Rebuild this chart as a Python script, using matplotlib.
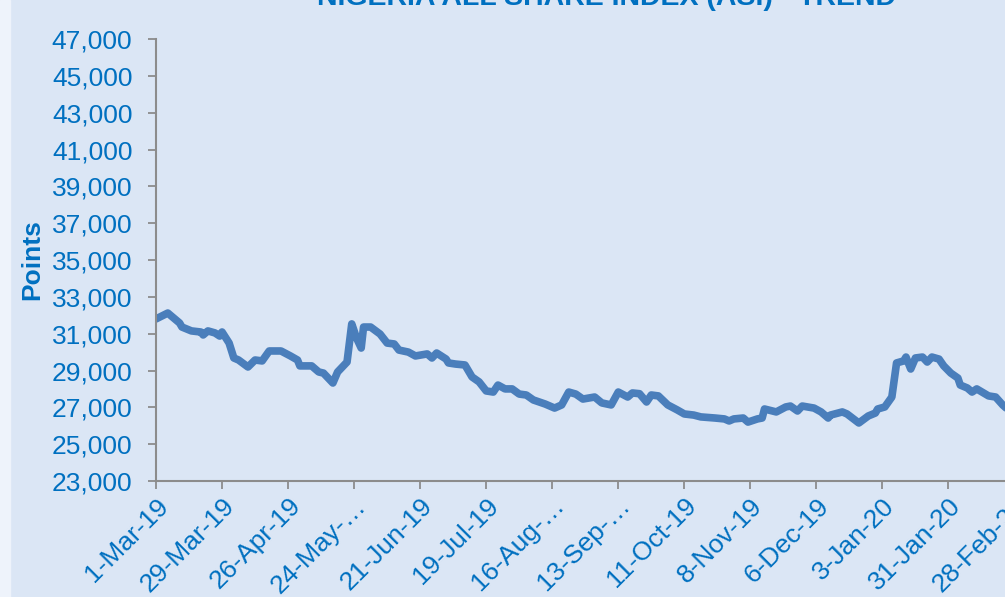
import pandas as pd
import matplotlib
matplotlib.use("Agg")
import matplotlib.pyplot as plt
from matplotlib.ticker import FuncFormatter

# ASI closing values
dates = [
    "2019-03-01", "2019-03-06", "2019-03-11", "2019-03-12", "2019-03-16", "2019-03-20",
    "2019-03-21", "2019-03-23", "2019-03-26", "2019-03-28", "2019-03-29", "2019-04-01",
    "2019-04-03", "2019-04-05", "2019-04-09", "2019-04-12", "2019-04-15", "2019-04-18",
    "2019-04-23", "2019-04-27", "2019-04-30", "2019-05-01", "2019-05-06", "2019-05-09",
    "2019-05-11", "2019-05-15", "2019-05-17", "2019-05-21", "2019-05-23", "2019-05-25",
    "2019-05-27", "2019-05-28", "2019-05-31", "2019-06-04", "2019-06-07", "2019-06-10",
    "2019-06-12", "2019-06-16", "2019-06-19", "2019-06-24", "2019-06-26", "2019-06-28",
    "2019-07-02", "2019-07-03", "2019-07-06", "2019-07-10", "2019-07-13", "2019-07-16",
    "2019-07-19", "2019-07-22", "2019-07-24", "2019-07-27", "2019-07-30", "2019-08-02",
    "2019-08-05", "2019-08-08", "2019-08-13", "2019-08-17", "2019-08-20", "2019-08-23",
    "2019-08-26", "2019-08-29", "2019-09-03", "2019-09-06", "2019-09-10", "2019-09-13",
    "2019-09-17", "2019-09-19", "2019-09-22", "2019-09-25", "2019-09-27", "2019-09-30",
    "2019-10-04", "2019-10-08", "2019-10-11", "2019-10-15", "2019-10-18", "2019-10-24",
    "2019-10-28", "2019-10-30", "2019-11-01", "2019-11-05", "2019-11-07", "2019-11-11",
    "2019-11-13", "2019-11-14", "2019-11-19", "2019-11-23", "2019-11-25", "2019-11-28",
    "2019-11-30", "2019-12-05", "2019-12-08", "2019-12-11", "2019-12-12", "2019-12-17",
    "2019-12-19", "2019-12-24", "2019-12-28", "2019-12-31", "2020-01-01", "2020-01-04",
    "2020-01-07", "2020-01-09", "2020-01-12", "2020-01-13", "2020-01-15", "2020-01-17",
    "2020-01-20", "2020-01-22", "2020-01-24", "2020-01-27", "2020-01-29", "2020-02-01",
    "2020-02-04", "2020-02-05", "2020-02-08", "2020-02-10", "2020-02-12", "2020-02-17",
    "2020-02-20", "2020-02-23", "2020-02-25",
]
asi = [
    31800, 32120, 31580, 31360, 31150, 31090,
    30930, 31150, 31040, 30870, 31090, 30490,
    29680, 29570, 29190, 29570, 29520, 30060,
    30060, 29790, 29570, 29250, 29250, 28920,
    28860, 28320, 28920, 29460, 31530, 30770,
    30220, 31360, 31360, 30980, 30490, 30440,
    30110, 30000, 29790, 29900, 29680, 29950,
    29620, 29410, 29350, 29300, 28650, 28380,
    27890, 27830, 28210, 28000, 28000, 27720,
    27670, 27400, 27180, 26960, 27130, 27830,
    27720, 27450, 27560, 27240, 27130, 27830,
    27560, 27780, 27740, 27290, 27670, 27620,
    27130, 26860, 26640, 26580, 26480, 26420,
    26370, 26260, 26370, 26420, 26200, 26370,
    26420, 26910, 26750, 27020, 27070, 26800,
    27070, 26960, 26750, 26420, 26580, 26750,
    26640, 26150, 26530, 26690, 26910, 27020,
    27560, 29410, 29520, 29730, 29080, 29680,
    29730, 29460, 29730, 29620, 29250, 28860,
    28590, 28210, 28050, 27830, 28000, 27620,
    27560, 27130, 26900,
]
tick_labels = [
    "1-Mar-19", "29-Mar-19", "26-Apr-19", "24-May-…", "21-Jun-19", "19-Jul-19",
    "16-Aug-…", "13-Sep-…", "11-Oct-19", "8-Nov-19", "6-Dec-19", "3-Jan-20",
    "31-Jan-20", "28-Feb-20",
]
y_ticks = list(range(23000, 47001, 2000))

blue_txt = "#0070c0"
line_col = "#4a7ebb"
bg = "#dbe6f5"

plt.rcParams["font.family"] = ["Liberation Sans", "DejaVu Sans"]

df = pd.DataFrame({"date": pd.to_datetime(dates), "asi": asi})
tick_dates = pd.date_range("2019-03-01", periods=len(tick_labels), freq="28D")

fig = plt.figure(figsize=(10.05, 5.97), dpi=100, facecolor=bg)
fig.patches.append(plt.Rectangle((0, 0), 10 / 1005, 1, transform=fig.transFigure,
                                 color="#eef3fb", zorder=-1))
ax = fig.add_axes([156 / 1005, 116 / 597, 875 / 1005, 442 / 597])
ax.set_facecolor(bg)

ax.plot(df["date"], df["asi"], color=line_col, lw=5.5, solid_joinstyle="round",
        solid_capstyle="round")

ax.set_ylim(23000, 47000)
ax.set_yticks(y_ticks)
ax.yaxis.set_major_formatter(FuncFormatter(lambda v, p: f"{int(v):,}"))
ax.set_xlim(pd.Timestamp("2019-03-01"), pd.Timestamp("2020-03-06"))
ax.set_xticks(tick_dates)
ax.set_xticklabels(tick_labels, rotation=45, ha="right", rotation_mode="anchor")

for s in ["top", "right"]:
    ax.spines[s].set_visible(False)
for s in ["left", "bottom"]:
    ax.spines[s].set_color("#8c8c8c")
    ax.spines[s].set_linewidth(1.5)
ax.tick_params(axis="both", colors="#8c8c8c", width=1.3, length=6,
               labelcolor=blue_txt, labelsize=19)
ax.tick_params(axis="y", pad=11)
ax.tick_params(axis="x", pad=3)

ax.set_ylabel("Points", color=blue_txt, fontsize=19, fontweight="bold", labelpad=5)

fig.text(0.603, 1 - 5 / 597, "NIGERIA ALL SHARE INDEX (ASI) - TREND", ha="center",
         va="baseline", color=blue_txt, fontsize=20.5, fontweight="bold")

fig.savefig("out.png", dpi=100, facecolor=bg)
